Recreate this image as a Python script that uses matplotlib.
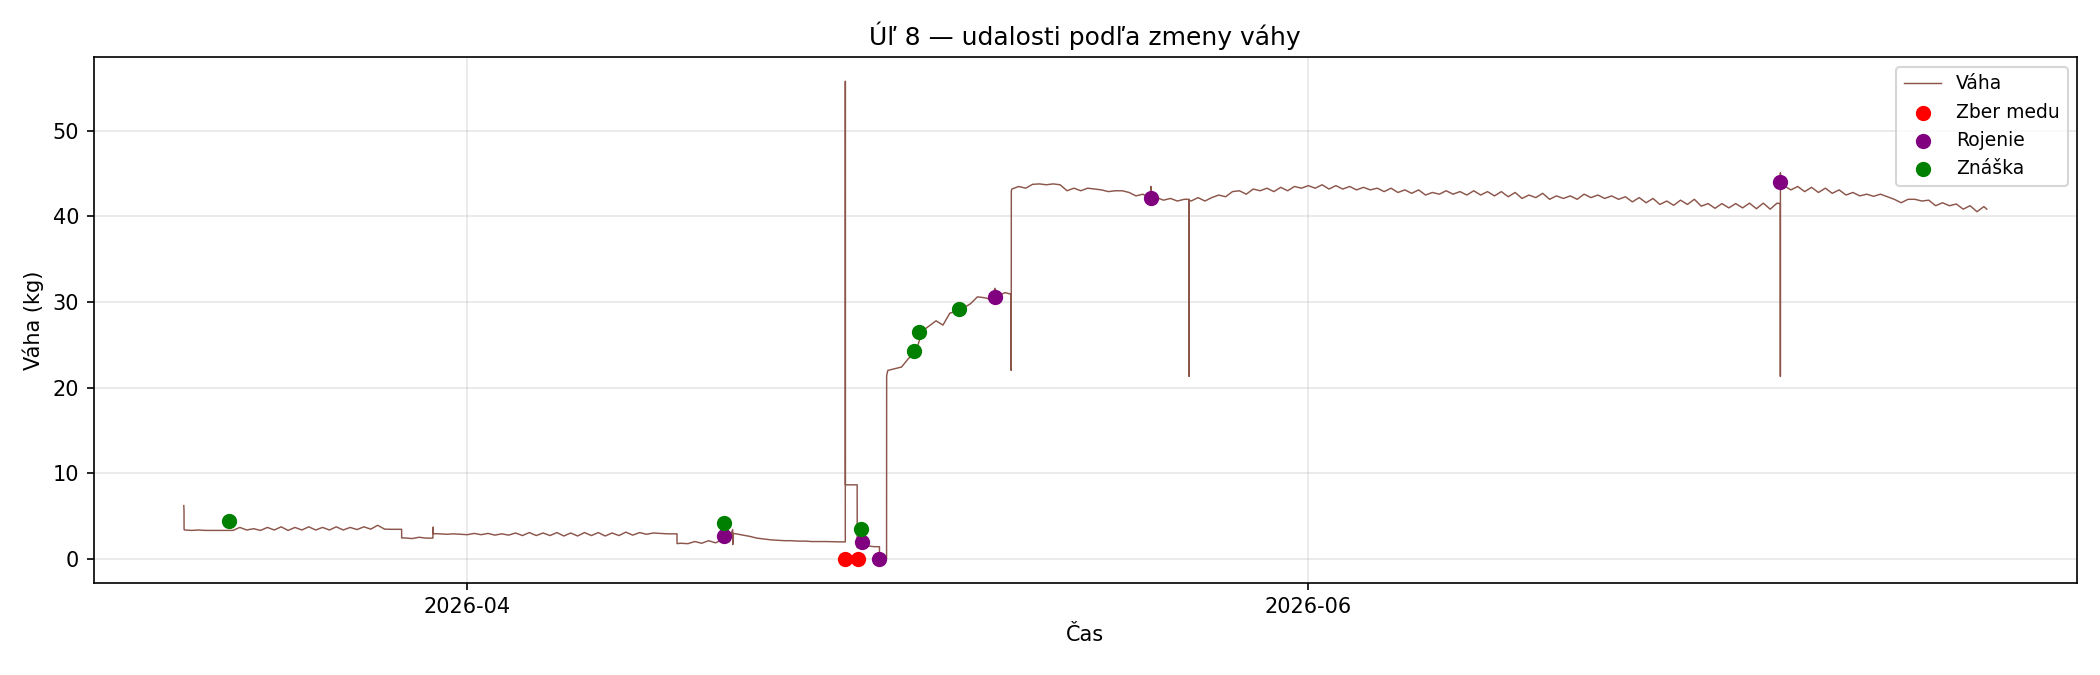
import numpy as np
import pandas as pd
import matplotlib
matplotlib.use('Agg')
import matplotlib.pyplot as plt
import matplotlib.dates as mdates

nan = np.nan

# denne odcitania vahy (kg) o polnoci a na poludnie, 11.3. - 20.7.2026
dni = pd.date_range('2026-03-11', '2026-07-20', freq='D')

vaha_0h = (
    # marec 11-31
    [nan, 3.3, 3.3, 3.3, 3.3, 3.35, 3.3, 3.35, 3.3, 3.35, 3.35, 3.35, 3.35, 3.4,
     3.45, 3.45, 3.43, 2.35, 2.4, 2.9, 2.9]
    # april
    + [2.8, 2.8, 2.75, 2.75, 2.7, 2.7, 2.7, 2.65, 2.65, 2.7, 2.65, 2.7, 2.75, 2.85,
       2.95, 2.9, 1.75, 1.8, 1.85, 2.3, 2.75, 2.4, 2.2, 2.1, 2.05, 2.0, 2.0, 1.96,
       8.63, 1.5]
    # maj
    + [0.0, 22.2, 23.4, 26.6, 27.8, 28.7, 29.3, 30.6, 30.3, 31.1, 43.5, 43.75, 43.7,
       43.7, 43.3, 43.3, 43.1, 43.0, 42.8, 42.6, 42.2, 42.1, 42.0, 42.2, 42.2, 42.3,
       43.0, 43.2, 43.3, 43.4, 43.5]
    # jun
    + [43.6, 43.7, 43.6, 43.5, 43.4, 43.3, 43.3, 43.1, 43.1, 42.8, 43.0, 42.9, 43.0,
       42.9, 42.9, 42.8, 42.5, 42.7, 42.4, 42.4, 42.6, 42.5, 42.4, 42.3, 42.2, 42.1,
       41.8, 41.9, 42.0, 41.5]
    # jul 1-20
    + [41.5, 41.5, 41.55, 41.55, 41.55, 43.1, 42.9, 42.8, 42.7, 42.5, 42.4, 42.35,
       42.3, 41.6, 42.0, 41.9, 41.6, 41.45, 41.25, 41.15]
)

vaha_12h = (
    [3.35, 3.35, 3.3, 3.3, 3.65, 3.5, 3.65, 3.72, 3.65, 3.72, 3.65, 3.72, 3.65, 3.72,
     3.9, 3.43, 2.42, 2.5, 2.4, 2.85, 2.85]
    + [2.95, 2.95, 2.9, 3.0, 3.05, 3.0, 3.05, 3.0, 3.05, 3.05, 3.0, 3.1, 3.05, 3.0,
       2.9, 1.8, 2.0, 2.1, 2.2, 2.9, 2.6, 2.3, 2.15, 2.1, 2.05, 2.0, 1.98, 8.63,
       1.3, 1.4]
    + [22.0, 22.4, 24.0, 27.2, 27.3, 28.9, 29.8, 30.5, 30.7, 43.2, 43.3, 43.8, 43.8,
       43.0, 43.0, 43.2, 42.9, 43.0, 42.4, 42.1, 41.9, 41.8, 41.8, 41.8, 42.5, 42.9,
       42.6, 43.0, 42.9, 43.0, 43.3]
    + [43.3, 43.2, 43.2, 43.1, 43.1, 42.9, 42.8, 42.7, 42.5, 42.6, 42.6, 42.5, 42.5,
       42.4, 42.3, 42.1, 42.2, 42.0, 42.1, 42.0, 42.2, 42.1, 42.0, 41.7, 41.6, 41.4,
       41.3, 41.4, 41.2, 40.95]
    + [41.0, 41.0, 40.9, 40.85, 43.6, 43.5, 43.4, 43.3, 43.1, 42.8, 42.6, 42.6, 42.0,
       42.0, 41.8, 41.25, 41.25, 40.85, 40.55, nan]
)

# skoky a spicky medzi dennymi odcitaniami
udalost_cas = [
    '2026-03-11 10:30', '2026-03-11 10:50', '2026-03-11 11:00',
    '2026-03-27 05:40', '2026-03-27 05:45',
    '2026-03-29 12:45', '2026-03-29 12:50',
    '2026-04-16 05:00', '2026-04-16 05:05',
    '2026-04-20 06:00', '2026-04-20 06:10', '2026-04-20 06:20',
    '2026-04-28 10:00', '2026-04-28 10:05', '2026-04-28 10:10',
    '2026-04-29 06:40', '2026-04-29 06:45',
    '2026-04-30 21:30', '2026-04-30 21:35',
    '2026-05-01 09:50', '2026-05-01 10:00',
    '2026-05-09 06:30',
    '2026-05-10 10:45', '2026-05-10 10:50', '2026-05-10 11:00',
    '2026-05-20 13:55', '2026-05-20 14:00', '2026-05-20 14:05',
    '2026-05-23 08:20', '2026-05-23 08:25', '2026-05-23 08:30',
    '2026-07-05 05:40', '2026-07-05 05:45', '2026-07-05 05:50', '2026-07-05 05:55',
    '2026-07-20 05:00',
]
udalost_kg = [
    6.2, 5.6, 3.4,
    3.43, 2.42,
    3.7, 2.92,
    2.9, 1.76,
    3.4, 1.65, 2.95,
    1.96, 55.8, 8.63,
    8.63, 1.3,
    1.4, 0.0,
    0.0, 21.4,
    31.6,
    30.9, 22.0, 43.0,
    42.2, 43.5, 42.1,
    42.0, 21.3, 41.9,
    41.5, 21.3, 45.1, 43.7,
    40.85,
]

zber_cas = ['2026-04-28 10:00', '2026-04-29 08:30']
zber_kg = [0.0, 0.0]
rojenie_cas = ['2026-04-19 14:30', '2026-04-29 14:30', '2026-04-30 21:30',
               '2026-05-09 06:30', '2026-05-20 14:00', '2026-07-05 05:50']
rojenie_kg = [2.65, 1.9, 0.0, 30.6, 42.1, 44.0]
znaska_cas = ['2026-03-14 17:00', '2026-04-19 14:00', '2026-04-29 14:00',
              '2026-05-03 09:30', '2026-05-03 19:00', '2026-05-06 16:00']
znaska_kg = [4.35, 4.2, 3.45, 24.3, 26.5, 29.15]


casy = list(dni) + list(dni + pd.Timedelta(hours=12)) + list(pd.to_datetime(udalost_cas))
hodnoty = list(vaha_0h) + list(vaha_12h) + list(udalost_kg)
df = pd.DataFrame({'cas': casy, 'kg': hodnoty}).dropna()
df = df.sort_values('cas', kind='stable')

fig, ax = plt.subplots(figsize=(14, 4.5), dpi=150)
ax.plot(df['cas'], df['kg'], color='tab:brown', lw=0.7, label='Váha')
ax.scatter(pd.to_datetime(zber_cas), zber_kg, color='red', s=40, zorder=3, label='Zber medu')
ax.scatter(pd.to_datetime(rojenie_cas), rojenie_kg, color='purple', s=40, zorder=3, label='Rojenie')
ax.scatter(pd.to_datetime(znaska_cas), znaska_kg, color='green', s=40, zorder=3, label='Znáška')

ax.xaxis.set_major_locator(mdates.MonthLocator(interval=2))
ax.xaxis.set_major_formatter(mdates.DateFormatter('%Y-%m'))
ax.grid(alpha=0.3)
ax.set_title('Úľ 8 — udalosti podľa zmeny váhy')
ax.set_xlabel('Čas')
ax.set_ylabel('Váha (kg)')
ax.legend(loc='upper right', fontsize=9)

fig.subplots_adjust(left=0.0446, right=0.989, bottom=0.137, top=0.915)
fig.savefig('out.png')
